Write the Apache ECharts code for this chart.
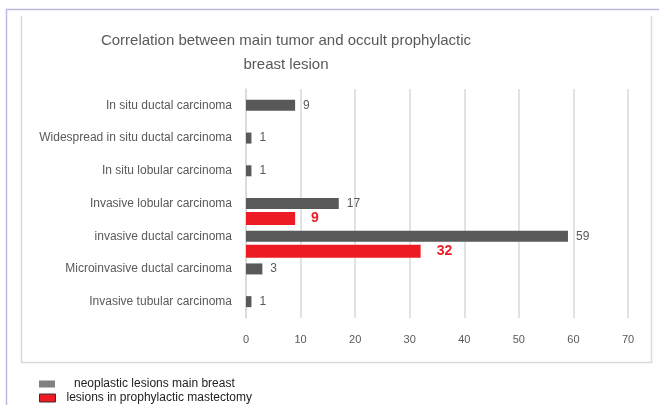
<!DOCTYPE html>
<html>
<head>
<meta charset="utf-8">
<script src="https://cdn.jsdelivr.net/npm/echarts@6/dist/echarts.min.js"></script>
<style>
  html, body { margin: 0; padding: 0; background: #fff; }
  #main { width: 659px; height: 405px; }
</style>
</head>
<body>
<div id="main"></div>
<script>
// categories listed bottom -> top (category axis draws first item at the bottom)
var categories = [
    'Invasive tubular carcinoma',
    'Microinvasive ductal carcinoma',
    'invasive ductal carcinoma',
    'Invasive lobular carcinoma',
    'In situ lobular carcinoma',
    'Widespread in situ ductal carcinoma',
    'In situ ductal carcinoma'
];
var mainBreast = [1, 3, 59, 17, 1, 1, 9];
var prophylactic = [null, null, 32, 9, null, null, null];
var xTicks = [0, 70, 10];   // min, max, interval

var labelFont = 'Liberation Sans';
var grey = '#595959';
var red = '#ed1c24';

var chart = echarts.init(document.getElementById('main'));

var option = {
    animation: false,
    title: {
        text: 'Correlation between main tumor and occult prophylactic\nbreast lesion',
        left: 281,
        top: 24,
        textAlign: 'center',
        textStyle: {
            fontFamily: labelFont,
            fontSize: 15,
            fontWeight: 'normal',
            color: grey,
            lineHeight: 24
        }
    },
    legend: [
        {
            left: 34, top: 373,
            itemWidth: 16, itemHeight: 7,
            data: [{ name: 'neoplastic lesions main breast', icon: 'rect', itemStyle: { color: '#808080' } }],
            textStyle: { fontFamily: labelFont, fontSize: 12, color: '#222', padding: [0, 0, 0, 14] }
        },
        {
            left: 34, top: 387,
            itemWidth: 16, itemHeight: 8,
            data: [{ name: 'lesions in prophylactic mastectomy', icon: 'rect', itemStyle: { color: red, borderColor: '#333', borderWidth: 1 } }],
            textStyle: { fontFamily: labelFont, fontSize: 12, color: '#222', padding: [0, 0, 0, 6] }
        }
    ],
    graphic: [
        // outer frame
        { type: 'line', shape: { x1: 6, y1: 9.5, x2: 659, y2: 9.5 }, style: { stroke: '#bdb8dc', lineWidth: 1.5 } },
        { type: 'line', shape: { x1: 6.5, y1: 9, x2: 6.5, y2: 405 }, style: { stroke: '#bdb8e6', lineWidth: 1.5 } },
        // inner chart box
        { type: 'polyline', shape: { points: [[21.5, 16], [21.5, 362.5], [651.5, 362.5], [651.5, 16]] }, style: { stroke: '#d9d9d9', fill: null, lineWidth: 1.5 } }
    ],
    grid: [
        { left: 246, right: 31, top: 89, bottom: 87 },
        { left: 246, right: 31, top: 104, bottom: 72 }
    ],
    xAxis: [
        {
            gridIndex: 0, type: 'value',
            min: xTicks[0], max: xTicks[1], interval: xTicks[2],
            axisLine: { show: false }, axisTick: { show: false },
            splitLine: { lineStyle: { color: '#d9d9d9', width: 1.5 } },
            axisLabel: { fontFamily: labelFont, fontSize: 11, color: grey, margin: 16 }
        },
        {
            gridIndex: 1, type: 'value',
            min: xTicks[0], max: xTicks[1], interval: xTicks[2],
            show: false
        }
    ],
    yAxis: [
        {
            gridIndex: 0, type: 'category', data: categories,
            axisLine: { show: true, lineStyle: { color: '#d9d9d9', width: 1.5 } },
            axisTick: { show: false },
            axisLabel: { fontFamily: labelFont, fontSize: 12, color: grey, margin: 14 }
        },
        {
            gridIndex: 1, type: 'category', data: categories, show: false
        }
    ],
    series: [
        {
            name: 'neoplastic lesions main breast',
            type: 'bar',
            xAxisIndex: 0, yAxisIndex: 0,
            data: mainBreast,
            barWidth: 11,
            itemStyle: { color: grey },
            label: {
                show: true, position: 'right', distance: 8,
                fontFamily: labelFont, fontSize: 12, color: grey
            }
        },
        {
            name: 'lesions in prophylactic mastectomy',
            type: 'bar',
            xAxisIndex: 1, yAxisIndex: 1,
            data: prophylactic,
            barWidth: 13,
            itemStyle: { color: red },
            label: {
                show: true, position: 'right', distance: 16,
                fontFamily: labelFont, fontSize: 14, fontWeight: 'bold', color: red
            }
        }
    ]
};

chart.setOption(option);
</script>
</body>
</html>
